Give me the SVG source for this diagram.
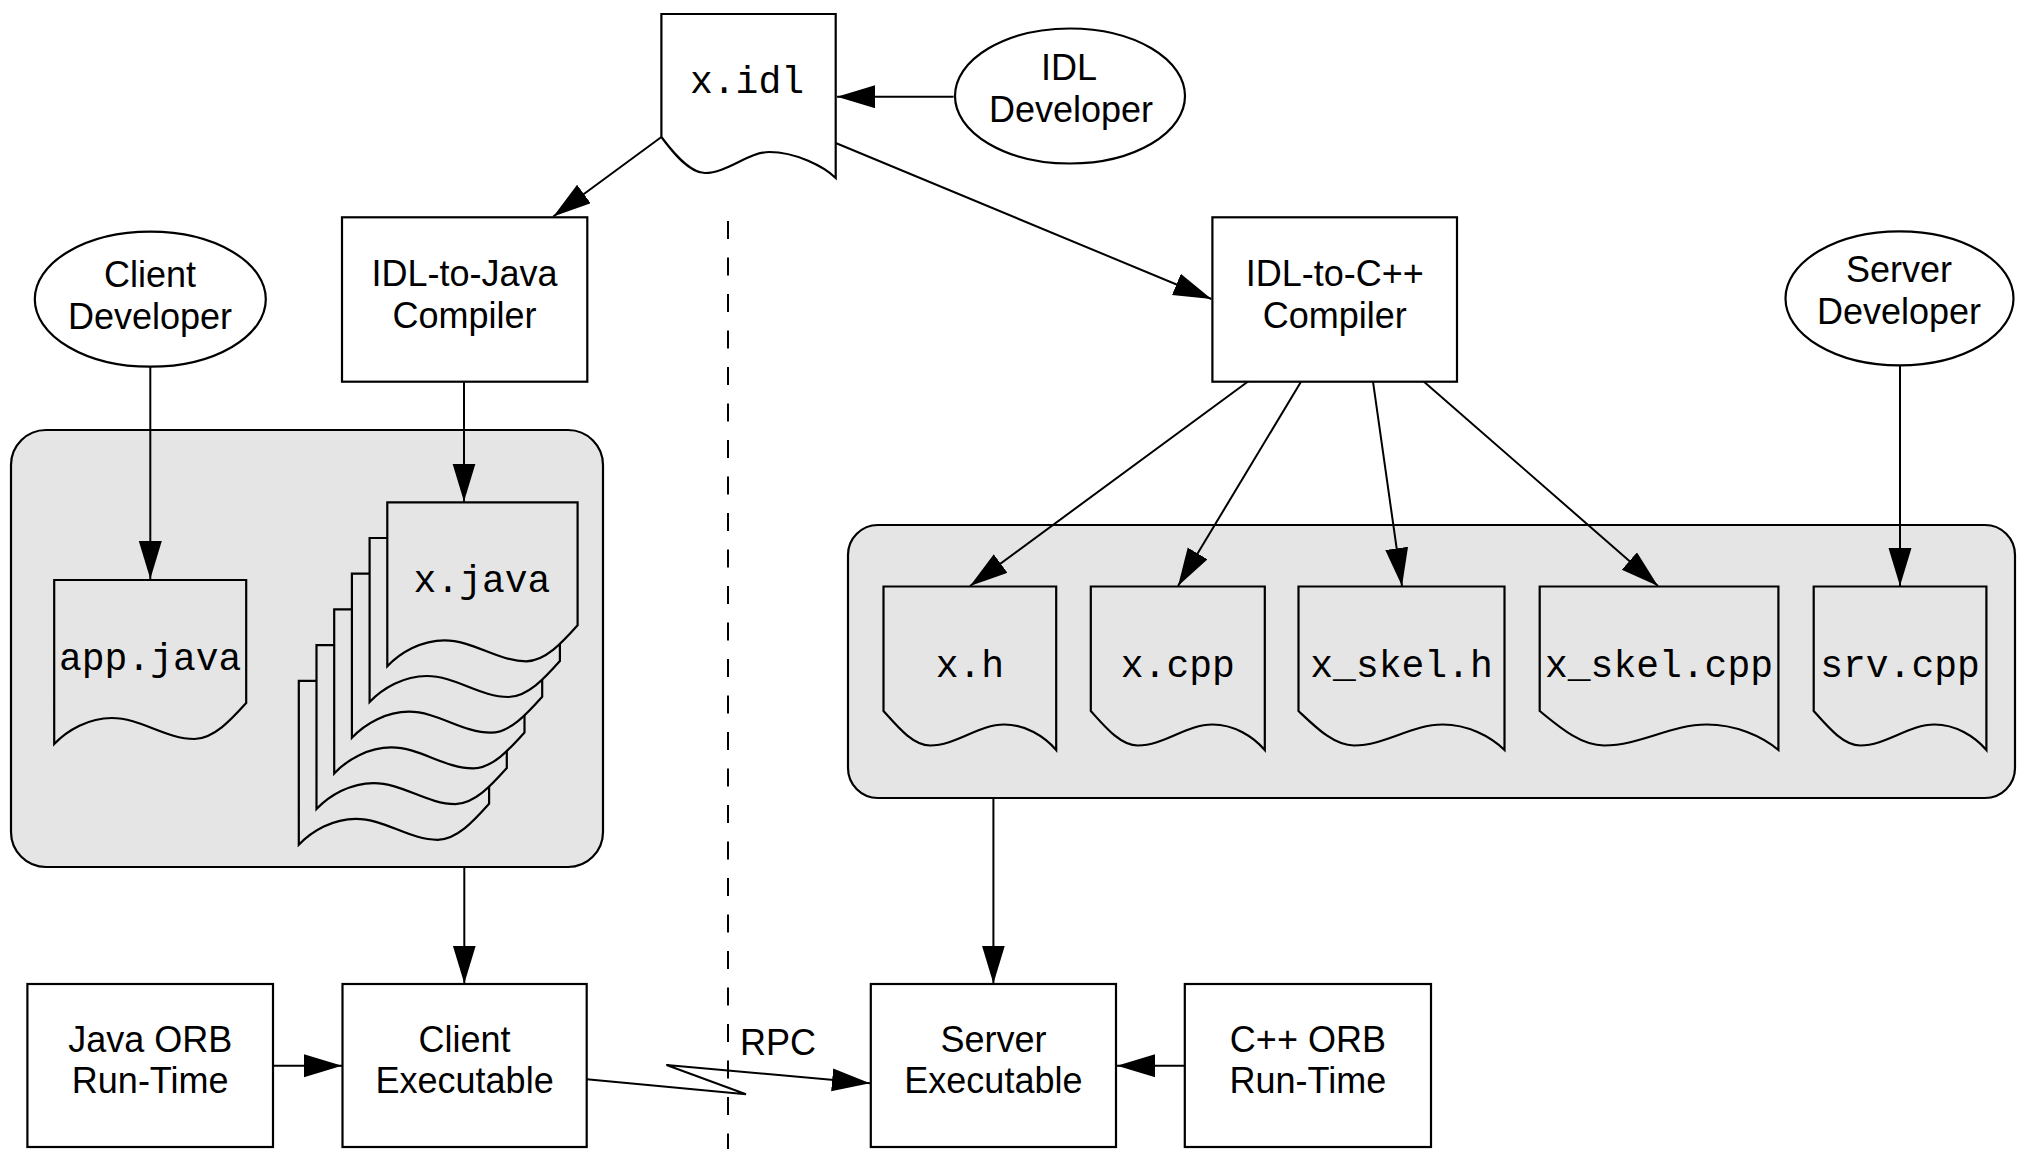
<svg xmlns="http://www.w3.org/2000/svg" xmlns:xlink="http://www.w3.org/1999/xlink" width="2017" height="1149" viewBox="0 0 2017 1149">
<style>
.box{fill:#fff;stroke:#000;stroke-width:2.2}
.ell{fill:#fff;stroke:#000;stroke-width:2.2}
.panel{fill:#e5e5e5;stroke:#000;stroke-width:2.2}
.doc{fill:#e5e5e5;stroke:#000;stroke-width:2.2;stroke-linejoin:miter}
.docw{fill:#fff;stroke:#000;stroke-width:2.2}
.t{font-family:"Liberation Sans",Arial,sans-serif;font-size:36px;fill:#000;text-anchor:middle}
.m{font-family:"Liberation Mono","Courier New",monospace;font-size:38px;fill:#000;text-anchor:middle}
.c{fill:none;stroke:#000;stroke-width:2}
.a{marker-end:url(#ah)}
</style>
<defs>
<marker id="ah" markerUnits="userSpaceOnUse" markerWidth="40" markerHeight="24" refX="38" refY="11.5" orient="auto">
<path d="M0,0 L38,11.5 L0,23 Z" fill="#000"/>
</marker>
<path id="jdoc" class="doc" d="M0,0 H190.3 V123 C175.1,140 158,159 138.9,159 C110.4,159 85.6,138 57.1,138 C34.3,138 13.3,150 0,164 Z"/>
</defs>
<rect width="2017" height="1149" fill="#fff"/>

<g id="separator">
<line x1="728" y1="221" x2="728" y2="1149" stroke="#000" stroke-width="2" stroke-dasharray="18 18.5"/>
</g>

<g id="client-panel">
<rect class="panel" x="11" y="430" width="592" height="437" rx="35" ry="35"/>
</g>
<g id="server-panel">
<rect class="panel" x="848" y="525" width="1167" height="273" rx="30" ry="30"/>
</g>

<g id="x-idl">
<path class="docw" d="M661.4,14 H835.7 V178 C823.5,166 795,152 769.4,152 C748,152 727,173 705,173 C690,173 674,154 661.4,137 Z"/>
<text class="m" x="747" y="93">x.idl</text>
</g>

<g id="idl-developer">
<ellipse class="ell" cx="1070" cy="96" rx="115" ry="67.5"/>
<text class="t" x="1069" y="80">IDL</text>
<text class="t" x="1071" y="121.7">Developer</text>
</g>

<g id="client-developer">
<ellipse class="ell" cx="150.3" cy="299.2" rx="115.5" ry="67.5"/>
<text class="t" x="150" y="287.3">Client</text>
<text class="t" x="150" y="329.3">Developer</text>
</g>

<g id="server-developer">
<ellipse class="ell" cx="1899.5" cy="298.4" rx="114" ry="67"/>
<text class="t" x="1899" y="282">Server</text>
<text class="t" x="1899" y="324">Developer</text>
</g>

<g id="idl-to-java">
<rect class="box" x="342" y="217.3" width="245.3" height="164.4"/>
<text class="t" x="464.6" y="286">IDL-to-Java</text>
<text class="t" x="464.6" y="328">Compiler</text>
</g>

<g id="idl-to-cpp">
<rect class="box" x="1212.4" y="217.3" width="244.6" height="164.4"/>
<text class="t" x="1334.7" y="286">IDL-to-C++</text>
<text class="t" x="1334.7" y="327.5">Compiler</text>
</g>

<g id="app-java">
<path class="doc" d="M54.2,580 H246.2 V703 C230.8,720 213.6,739 194.4,739 C165.6,739 140.6,718 111.8,718 C88.8,718 67.6,730 54.2,744 Z"/>
<text class="m" x="150.2" y="670">app.java</text>
</g>

<g id="x-java">
<use xlink:href="#jdoc" x="298.8" y="680.8"/>
<use xlink:href="#jdoc" x="316.5" y="645.1"/>
<use xlink:href="#jdoc" x="334.2" y="609.4"/>
<use xlink:href="#jdoc" x="351.9" y="573.7"/>
<use xlink:href="#jdoc" x="369.6" y="538"/>
<use xlink:href="#jdoc" x="387.3" y="502.3"/>
<text class="m" x="482" y="591.7">x.java</text>
</g>

<g id="x-h">
<path class="doc" d="M883.5,586.5 H1056.2 V750 C1044.1,736 1025.1,724.5 1004.4,724.5 C978.5,724.5 956,745.5 930.1,745.5 C912.9,745.5 897.3,726.5 883.5,711 Z"/>
<text class="m" x="969.9" y="676.7">x.h</text>
</g>

<g id="x-cpp">
<path class="doc" d="M1090.8,586.5 H1264.8 V750 C1252.6,736 1233.5,724.5 1212.6,724.5 C1186.5,724.5 1163.9,745.5 1137.8,745.5 C1120.4,745.5 1104.7,726.5 1090.8,711 Z"/>
<text class="m" x="1177.8" y="676.7">x.cpp</text>
</g>

<g id="x-skel-h">
<path class="doc" d="M1298.5,586.5 H1504.5 V750 C1490.1,736 1467.4,724.5 1442.7,724.5 C1411.8,724.5 1385,745.5 1354.1,745.5 C1333.5,745.5 1315,726.5 1298.5,711 Z"/>
<text class="m" x="1401.5" y="676.7">x_skel.h</text>
</g>

<g id="x-skel-cpp">
<path class="doc" d="M1539.7,586.5 H1778.4 V750 C1761.7,736 1735.4,724.5 1706.8,724.5 C1671,724.5 1640,745.5 1604.1,745.5 C1580.3,745.5 1558.8,726.5 1539.7,711 Z"/>
<text class="m" x="1659" y="676.7">x_skel.cpp</text>
</g>

<g id="srv-cpp">
<path class="doc" d="M1813.7,586.5 H1986.4 V750 C1974.3,736 1955.3,724.5 1934.6,724.5 C1908.7,724.5 1886.2,745.5 1860.3,745.5 C1843.1,745.5 1827.5,726.5 1813.7,711 Z"/>
<text class="m" x="1900" y="676.7">srv.cpp</text>
</g>

<g id="java-orb">
<rect class="box" x="27.4" y="984" width="245.6" height="163"/>
<text class="t" x="150.2" y="1051.7">Java ORB</text>
<text class="t" x="150.2" y="1093.3">Run-Time</text>
</g>

<g id="client-exe">
<rect class="box" x="342.5" y="984" width="244.2" height="163"/>
<text class="t" x="464.6" y="1051.7">Client</text>
<text class="t" x="464.6" y="1093.3">Executable</text>
</g>

<g id="server-exe">
<rect class="box" x="870.8" y="984" width="245.2" height="163"/>
<text class="t" x="993.4" y="1051.7">Server</text>
<text class="t" x="993.4" y="1093.3">Executable</text>
</g>

<g id="cpp-orb">
<rect class="box" x="1184.8" y="984" width="246.2" height="163"/>
<text class="t" x="1307.9" y="1051.7">C++ ORB</text>
<text class="t" x="1307.9" y="1093.3">Run-Time</text>
</g>

<g id="connectors">
<path class="c a" d="M953.6,96.7 L837,96.7"/>
<path class="c a" d="M661.4,137 L553.3,216.5"/>
<path class="c a" d="M835.7,143 L1211.5,299"/>
<path class="c a" d="M150.3,367 L150.3,579"/>
<path class="c a" d="M464,382 L464,501.5"/>
<path class="c a" d="M1247.7,381.7 L970,586"/>
<path class="c a" d="M1301,381.7 L1178,586"/>
<path class="c a" d="M1373,381.7 L1402,586"/>
<path class="c a" d="M1424,381.7 L1658,586"/>
<path class="c a" d="M1900,365.4 L1900,586"/>
<path class="c a" d="M464.3,866.7 L464.3,983.5"/>
<path class="c a" d="M993.4,798 L993.4,983.5"/>
<path class="c a" d="M273,1065.7 L342,1065.7"/>
<path class="c a" d="M1184.8,1065.7 L1117,1065.7"/>
<path class="c a" d="M586.7,1079.3 L746,1094.3 L666.5,1065 L870,1083.3"/>
<text class="t" x="740" y="1055" style="text-anchor:start">RPC</text>
</g>
</svg>
